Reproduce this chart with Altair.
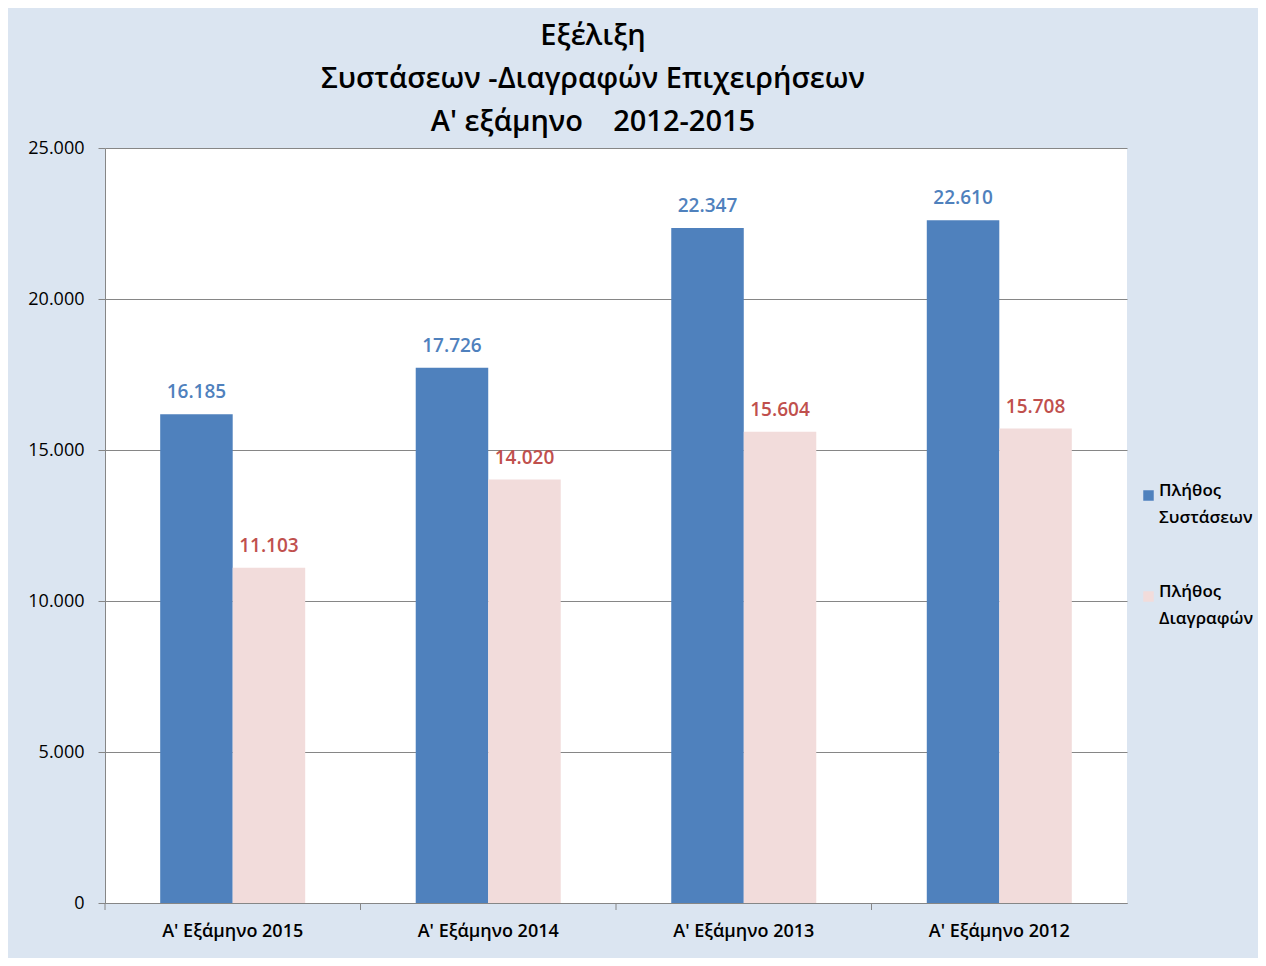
import altair as alt
import pandas as pd

categories = ["Α' Εξάμηνο 2015", "Α' Εξάμηνο 2014", "Α' Εξάμηνο 2013", "Α' Εξάμηνο 2012"]
series_names = ["Πλήθος Συστάσεων", "Πλήθος Διαγραφών"]
systaseis = [16185, 17726, 22347, 22610]
diagrafes = [11103, 14020, 15604, 15708]
y_ticks = [0, 5000, 10000, 15000, 20000, 25000]
boundaries = [0, 1, 2, 3]

rows = []
for i, c in enumerate(categories):
    rows.append({"cat": c, "series": series_names[0], "value": systaseis[i]})
    rows.append({"cat": c, "series": series_names[1], "value": diagrafes[i]})
df = pd.DataFrame(rows)
bdf = pd.DataFrame({"b": boundaries})

FONT = "Open Sans"
BLUE = "#4f81bd"
PINK = "#f2dcdb"
RED = "#c0504d"
GRID = "#868686"

xscale = alt.Scale(paddingInner=0.4325, paddingOuter=0.216)
xenc = alt.X("cat:N", sort=categories, title=None, scale=xscale,
             axis=alt.Axis(labelAngle=0, ticks=False, domainColor=GRID, labelFontSize=18,
                           labelFontWeight=600, labelColor="#000000", labelPadding=19, labelFont=FONT))
xenc_noaxis = alt.X("cat:N", sort=categories, title=None, scale=xscale, axis=None)
yenc = alt.Y("value:Q", title=None,
             scale=alt.Scale(domain=[0, 25000]),
             axis=alt.Axis(values=y_ticks, grid=True, gridColor=GRID, domainColor=GRID, tickColor=GRID,
                           tickSize=7, labelFontSize=18, labelColor="#000000", labelPadding=14,
                           labelFont=FONT,
                           labelExpr="replace(format(datum.value, ','), ',', '.')"))
xoff = alt.XOffset("series:N", sort=series_names)

bars = alt.Chart(df).mark_bar().encode(
    x=xenc, xOffset=xoff, y=yenc,
    color=alt.Color("series:N", sort=series_names,
                    scale=alt.Scale(domain=series_names, range=[BLUE, PINK]),
                    legend=alt.Legend(title=None, orient="none", legendX=1035, legendY=339,
                                      symbolType="square", symbolSize=110, symbolStrokeWidth=0,
                                      labelFontSize=17, labelFontWeight=600, labelFont=FONT,
                                      labelColor="#000000", labelLimit=300,
                                      labelExpr="split(datum.label, ' ')",
                                      labelBaseline="alphabetic", labelOffset=2,
                                      rowPadding=56)),
)

labels = alt.Chart(df).transform_calculate(
    lbl="replace(format(datum.value, ','), ',', '.')"
).mark_text(baseline="bottom", dy=-12, fontSize=19, fontWeight=600, font=FONT).encode(
    x=xenc_noaxis, xOffset=xoff, y=yenc,
    text="lbl:N",
    color=alt.condition(alt.datum.series == series_names[0], alt.value(BLUE), alt.value(RED)),
)

ticks = alt.Chart(bdf).mark_rule(color=GRID).encode(
    x=alt.X("b:Q", scale=alt.Scale(domain=[0, 4], nice=False, zero=False), axis=None),
    y=alt.value(755), y2=alt.value(762),
)

chart = alt.layer(bars, labels, ticks).resolve_scale(x="independent").properties(
    width=1022, height=755,
    padding={"left": 97, "top": 140, "right": 131, "bottom": 55},
    autosize=alt.AutoSizeParams(type="none"),
    background="#dbe5f1",
    title=alt.Title(["Εξέλιξη", "Συστάσεων -Διαγραφών Επιχειρήσεων",
                     "Α' εξάμηνο\u00a0\u00a0\u00a0 2012-2015"],
                    fontSize=29, fontWeight=600, font=FONT, lineHeight=43, anchor="middle",
                    dx=-23, dy=12, offset=14, color="#000000"),
).configure(
    style={"guide-label": {"lineHeight": 27}},
    view=alt.ViewConfig(fill="#ffffff", strokeWidth=0),
)

chart.save("out.html", embed_options={"renderer": "svg", "actions": False})
